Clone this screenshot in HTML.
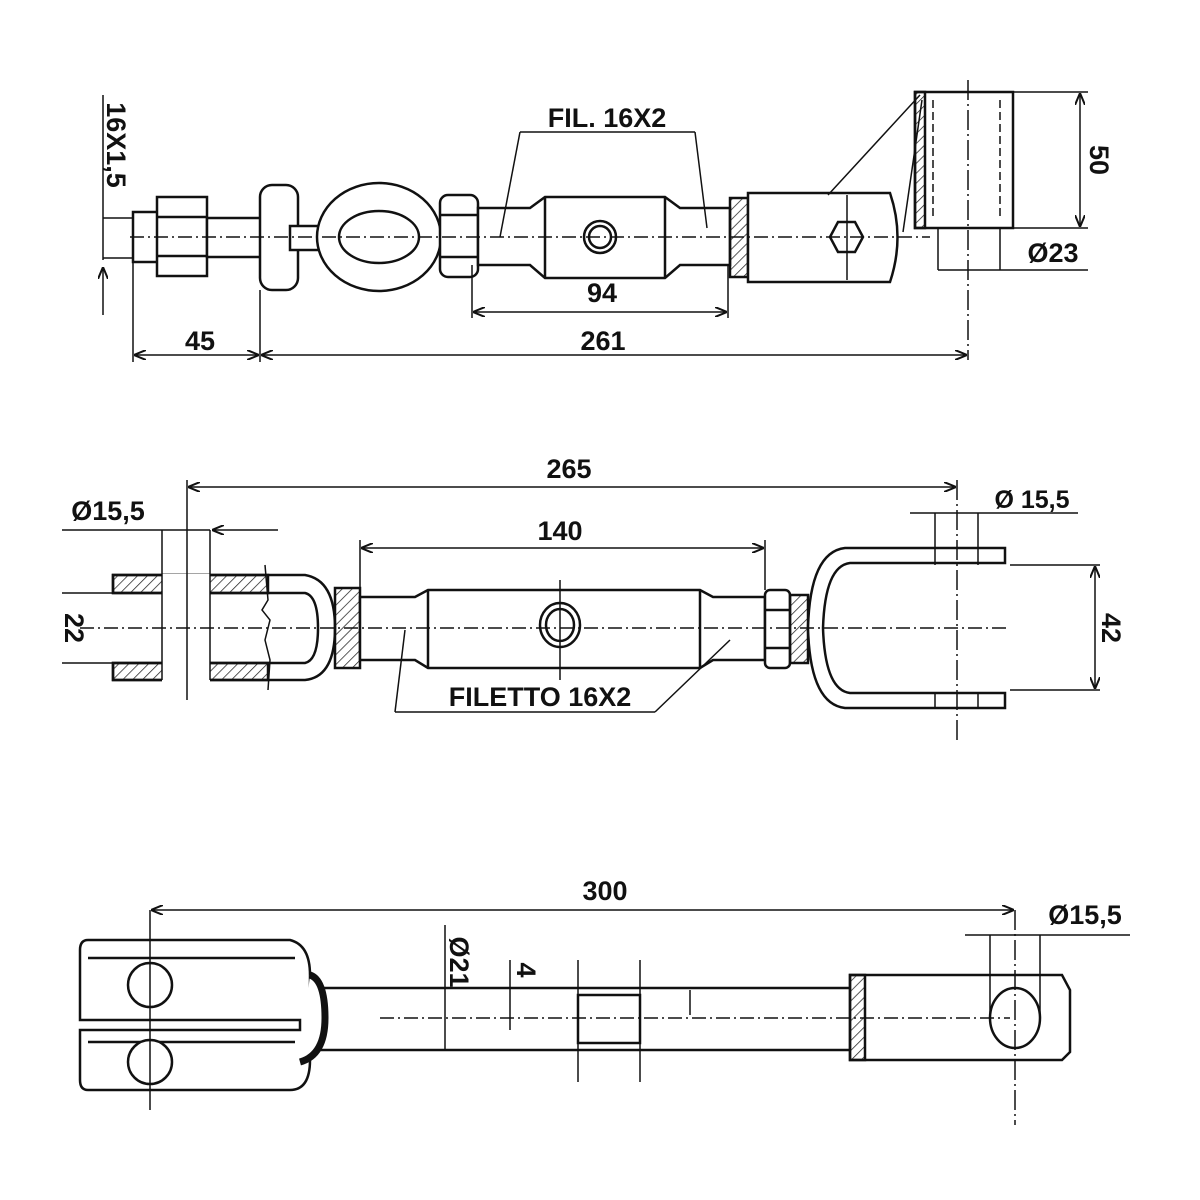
<!DOCTYPE html>
<html><head><meta charset="utf-8"><style>
html,body{margin:0;padding:0;background:#fff}
svg{display:block}
text{font-family:"Liberation Sans",Arial,sans-serif;font-weight:bold;fill:#111}
</style></head><body>
<svg width="1200" height="1200" viewBox="0 0 1200 1200" xmlns="http://www.w3.org/2000/svg">
<defs>
<marker id="a" viewBox="0 0 12 10" refX="11" refY="5" markerWidth="12" markerHeight="10" orient="auto-start-reverse" markerUnits="userSpaceOnUse">
<path d="M0,0 L12,5 L0,10" fill="none" stroke="#111" stroke-width="2"/></marker>
<pattern id="h" width="7" height="7" patternUnits="userSpaceOnUse" patternTransform="rotate(45)"><line x1="0" y1="0" x2="0" y2="7" stroke="#222" stroke-width="1.5"/></pattern>
</defs>
<rect width="1200" height="1200" fill="#fff"/>
<g fill="#fff" stroke="#111" stroke-width="2.5">
<!-- TOP VIEW -->
<rect x="133" y="212" width="30" height="50"/>
<rect x="157" y="197" width="50" height="79"/>
<line x1="157" y1="217" x2="207" y2="217"/><line x1="157" y1="256" x2="207" y2="256"/>
<rect x="207" y="218" width="55" height="39"/>
<rect x="260" y="185" width="38" height="105" rx="12"/>
<rect x="290" y="226" width="80" height="24"/>
<ellipse cx="379" cy="237" rx="62" ry="54"/>
<ellipse cx="379" cy="237" rx="40" ry="26"/>
<rect x="346" y="224" width="30" height="26" stroke="none"/>
<rect x="440" y="195" width="38" height="82" rx="8"/>
<line x1="440" y1="215" x2="478" y2="215"/><line x1="440" y1="257" x2="478" y2="257"/>
<path d="M478,208 L530,208 L545,197 L665,197 L680,208 L730,208 L730,265 L680,265 L665,278 L545,278 L530,265 L478,265 Z"/>
<line x1="545" y1="197" x2="545" y2="278"/><line x1="665" y1="197" x2="665" y2="278"/>
<circle cx="600" cy="237" r="16"/><circle cx="600" cy="237" r="11"/>
<rect x="730" y="198" width="18" height="79" fill="url(#h)"/>
<path d="M748,193 L890,193 Q905,237 890,282 L748,282 Z"/>
<polygon points="830,237 838,222 855,222 863,237 855,252 838,252"/>
<rect x="915" y="92" width="98" height="136"/>
<rect x="915" y="92" width="10" height="136" fill="url(#h)"/>
</g>
<g stroke="#111" stroke-width="1.5" fill="none">
<line x1="933" y1="100" x2="933" y2="220" stroke-dasharray="8,4"/>
<line x1="1000" y1="100" x2="1000" y2="220" stroke-dasharray="8,4"/>
<line x1="903" y1="232" x2="922" y2="100"/><line x1="828" y1="195" x2="920" y2="95"/>
<line x1="130" y1="237" x2="930" y2="237" stroke-dasharray="14,4,2,4"/>
<line x1="968" y1="80" x2="968" y2="360" stroke-dasharray="20,4,2,4"/>
<line x1="847" y1="195" x2="847" y2="280"/>
<!-- top dims -->
<line x1="103" y1="95" x2="103" y2="260"/><line x1="103" y1="315" x2="103" y2="268" marker-end="url(#a)"/>
<line x1="103" y1="218" x2="133" y2="218"/><line x1="103" y1="258" x2="133" y2="258"/>
<line x1="133" y1="262" x2="133" y2="362"/><line x1="260" y1="290" x2="260" y2="362"/>
<line x1="135" y1="355" x2="258" y2="355" marker-start="url(#a)" marker-end="url(#a)"/>
<line x1="262" y1="355" x2="966" y2="355" marker-start="url(#a)" marker-end="url(#a)"/>
<line x1="472" y1="265" x2="472" y2="318"/><line x1="728" y1="265" x2="728" y2="318"/>
<line x1="474" y1="312" x2="726" y2="312" marker-start="url(#a)" marker-end="url(#a)"/>
<line x1="520" y1="132" x2="695" y2="132"/><line x1="520" y1="132" x2="500" y2="237"/><line x1="695" y1="132" x2="707" y2="228"/>
<line x1="1013" y1="92" x2="1088" y2="92"/><line x1="1013" y1="228" x2="1088" y2="228"/>
<line x1="1080" y1="94" x2="1080" y2="226" marker-start="url(#a)" marker-end="url(#a)"/>
<line x1="938" y1="228" x2="938" y2="270"/><line x1="1000" y1="228" x2="1000" y2="270"/>
<line x1="938" y1="270" x2="1088" y2="270"/>
</g>
<g font-size="27">
<text x="607" y="127" text-anchor="middle">FIL. 16X2</text>
<text x="602" y="302" text-anchor="middle">94</text>
<text x="200" y="350" text-anchor="middle">45</text>
<text x="603" y="350" text-anchor="middle">261</text>
<text x="1053" y="262" text-anchor="middle">Ø23</text>
<text transform="translate(1090,160) rotate(90)" text-anchor="middle">50</text>
<text transform="translate(107,145) rotate(90)" text-anchor="middle">16X1,5</text>
</g>

<!-- MIDDLE VIEW -->
<g fill="#fff" stroke="#111" stroke-width="2.5">
<path d="M113,575 L305,575 Q335,580 335,628 Q335,677 305,680 L113,680 L113,663 L305,663 Q318,660 318,628 Q318,596 305,593 L113,593 Z"/>
<rect x="113" y="575" width="155" height="18" fill="url(#h)"/>
<rect x="113" y="663" width="155" height="17" fill="url(#h)"/>
<rect x="162" y="574" width="48" height="108" stroke="none"/>
<rect x="335" y="588" width="25" height="80" fill="url(#h)"/>
<path d="M360,597 L415,597 L428,590 L700,590 L713,597 L765,597 L765,660 L713,660 L700,668 L428,668 L415,660 L360,660 Z"/>
<line x1="428" y1="590" x2="428" y2="668"/><line x1="700" y1="590" x2="700" y2="668"/>
<ellipse cx="560" cy="625" rx="20" ry="22"/><ellipse cx="560" cy="625" rx="14" ry="16"/>
<rect x="765" y="590" width="25" height="78" rx="5"/>
<line x1="765" y1="610" x2="790" y2="610"/><line x1="765" y1="648" x2="790" y2="648"/>
<rect x="790" y="595" width="18" height="68" fill="url(#h)"/>
<path d="M1005,548 L845,548 Q810,552 808,628 Q810,704 845,708 L1005,708 L1005,693 L850,693 Q825,690 823,628 Q825,566 850,563 L1005,563 Z"/>
</g>
<g stroke="#111" stroke-width="1.5" fill="none">
<line x1="62" y1="593" x2="113" y2="593"/><line x1="62" y1="663" x2="113" y2="663"/>
<line x1="162" y1="530" x2="162" y2="680"/><line x1="210" y1="530" x2="210" y2="680"/>
<line x1="187" y1="480" x2="187" y2="700"/>
<path d="M265,565 L268,600 L262,610 L270,620 L265,640 L270,660 L268,690"/>
<line x1="62" y1="530" x2="210" y2="530"/><line x1="278" y1="530" x2="213" y2="530" marker-end="url(#a)"/>
<line x1="189" y1="487" x2="955" y2="487" marker-start="url(#a)" marker-end="url(#a)"/>
<line x1="362" y1="548" x2="763" y2="548" marker-start="url(#a)" marker-end="url(#a)"/>
<line x1="360" y1="540" x2="360" y2="597"/><line x1="765" y1="540" x2="765" y2="590"/>
<line x1="80" y1="628" x2="1010" y2="628" stroke-dasharray="14,4,2,4"/>
<line x1="560" y1="580" x2="560" y2="680"/>
<line x1="957" y1="480" x2="957" y2="742" stroke-dasharray="20,4,2,4"/>
<line x1="910" y1="513" x2="1078" y2="513"/>
<line x1="935" y1="513" x2="935" y2="565"/><line x1="978" y1="513" x2="978" y2="565"/>
<line x1="935" y1="693" x2="935" y2="708"/><line x1="978" y1="693" x2="978" y2="708"/>
<line x1="1010" y1="565" x2="1100" y2="565"/><line x1="1010" y1="690" x2="1100" y2="690"/>
<line x1="1095" y1="567" x2="1095" y2="688" marker-start="url(#a)" marker-end="url(#a)"/>
<line x1="395" y1="712" x2="655" y2="712"/><line x1="395" y1="712" x2="405" y2="630"/><line x1="655" y1="712" x2="730" y2="640"/>
</g>
<g font-size="27">
<text x="569" y="478" text-anchor="middle">265</text>
<text x="560" y="540" text-anchor="middle">140</text>
<text x="108" y="520" text-anchor="middle">Ø15,5</text>
<text x="1032" y="508" text-anchor="middle" font-size="25">Ø 15,5</text>
<text x="540" y="706" text-anchor="middle">FILETTO 16X2</text>
<text transform="translate(65,628) rotate(90)" text-anchor="middle">22</text>
<text transform="translate(1102,628) rotate(90)" text-anchor="middle">42</text>
</g>

<!-- BOTTOM VIEW -->
<g fill="#fff" stroke="#111" stroke-width="2.5">
<rect x="320" y="988" width="532" height="62"/>
<path d="M88,940 L290,940 Q310,945 310,975 L310,1060 Q310,1090 290,1090 L88,1090 Q80,1090 80,1080 L80,1030 L300,1030 L300,1020 L80,1020 L80,950 Q80,940 88,940 Z"/>
<line x1="88" y1="958" x2="295" y2="958"/><line x1="88" y1="1042" x2="295" y2="1042"/>
<circle cx="150" cy="985" r="22"/><circle cx="150" cy="1062" r="22"/>
<path d="M310,975 Q325,980 325,1018 Q325,1055 300,1062" stroke-width="7"/>
<rect x="578" y="995" width="62" height="48"/>
<path d="M850,975 L1062,975 L1070,990 L1070,1052 L1062,1060 L850,1060 Z"/>
<rect x="850" y="975" width="15" height="85" fill="url(#h)"/>
<ellipse cx="1015" cy="1018" rx="25" ry="30"/>
</g>
<g stroke="#111" stroke-width="1.5" fill="none">
<line x1="150" y1="910" x2="150" y2="1110"/>
<line x1="152" y1="910" x2="1013" y2="910" marker-start="url(#a)" marker-end="url(#a)"/>
<line x1="965" y1="935" x2="1130" y2="935"/>
<line x1="990" y1="935" x2="990" y2="1018"/><line x1="1040" y1="935" x2="1040" y2="1018"/>
<line x1="1015" y1="910" x2="1015" y2="1125" stroke-dasharray="20,4,2,4"/>
<line x1="380" y1="1018" x2="1010" y2="1018" stroke-dasharray="14,4,2,4"/>
<line x1="445" y1="925" x2="445" y2="1050"/>
<line x1="510" y1="960" x2="510" y2="1030"/>
<line x1="578" y1="960" x2="578" y2="1082"/><line x1="640" y1="960" x2="640" y2="1082"/>
<line x1="690" y1="990" x2="690" y2="1015"/>
</g>
<g font-size="27">
<text x="605" y="900" text-anchor="middle">300</text>
<text x="1085" y="924" text-anchor="middle">Ø15,5</text>
<text transform="translate(450,962) rotate(90)" text-anchor="middle">Ø21</text>
<text transform="translate(517,970) rotate(90)" text-anchor="middle">4</text>
</g>
</svg>
</body></html>
